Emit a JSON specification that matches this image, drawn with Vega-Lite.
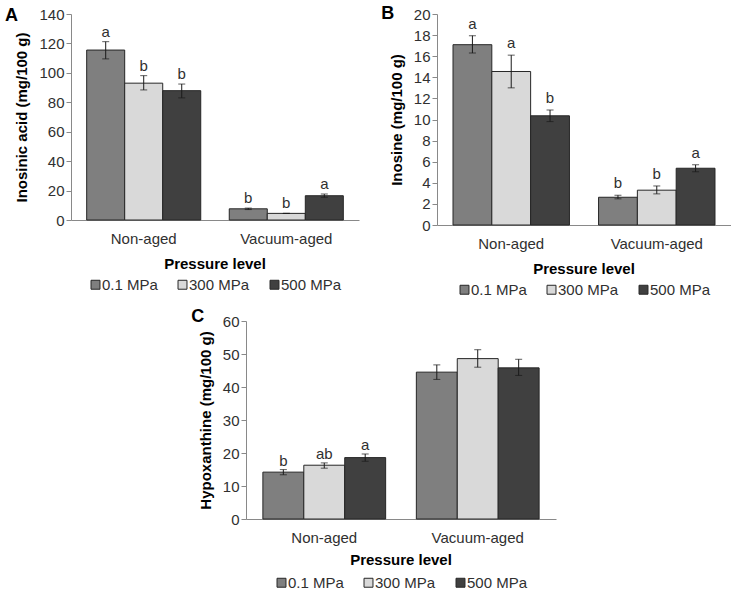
{
  "$schema": "https://vega.github.io/schema/vega-lite/v6.json",
  "padding": {"left": 4, "top": 5, "right": 0, "bottom": 0},
  "background": "white",
  "config": {
    "font": "Liberation Sans",
    "view": {"stroke": null},
    "axis": {
      "domainColor": "#898989",
      "tickColor": "#898989",
      "labelColor": "#303030",
      "labelFont": "Liberation Sans",
      "labelFontSize": 15,
      "titleFont": "Liberation Sans",
      "titleFontSize": 15,
      "titleFontWeight": "bold",
      "titleColor": "#000000",
      "grid": false,
      "labelOverlap": false,
      "labelBound": false
    },
    "axisX": {"ticks": false, "tickSize": 0, "labelAngle": 0, "labelPadding": 11, "title": null},
    "axisY": {"tickSize": 5, "labelPadding": 2, "titlePadding": 9},
    "legend": {
      "layout": {"bottom": {"anchor": "middle"}},
      "orient": "bottom",
      "direction": "horizontal",
      "titleOrient": "top",
      "titleAnchor": "middle",
      "titleFont": "Liberation Sans",
      "titleFontSize": 15,
      "titleFontWeight": "bold",
      "titleColor": "#000000",
      "titlePadding": 5,
      "labelFont": "Liberation Sans",
      "labelFontSize": 15,
      "labelColor": "#303030",
      "labelOffset": -1,
      "symbolType": "square",
      "symbolSize": 80,
      "symbolStrokeColor": "#262626",
      "symbolStrokeWidth": 1,
      "columnPadding": 17,
      "offset": 11
    },
    "title": {"fontSize": 18, "fontWeight": "bold", "color": "#000000", "orient": "left", "anchor": "end", "frame": "group", "angle": 0, "align": "right", "baseline": "middle"}
  },
  "datasets": {
    "A": [
      {"group": "Non-aged", "pressure": "0.1 MPa", "value": 115.5, "lo": 109.5, "hi": 121.2, "letter": "a"},
      {"group": "Non-aged", "pressure": "300 MPa", "value": 93.0, "lo": 88.4, "hi": 98.1, "letter": "b"},
      {"group": "Non-aged", "pressure": "500 MPa", "value": 87.9, "lo": 83.0, "hi": 92.4, "letter": "b"},
      {"group": "Vacuum-aged", "pressure": "0.1 MPa", "value": 7.6, "lo": 7.1, "hi": 8.1, "letter": "b"},
      {"group": "Vacuum-aged", "pressure": "300 MPa", "value": 4.5, "lo": 4.5, "hi": 4.5, "letter": "b"},
      {"group": "Vacuum-aged", "pressure": "500 MPa", "value": 16.5, "lo": 15.4, "hi": 17.6, "letter": "a"}
    ],
    "B": [
      {"group": "Non-aged", "pressure": "0.1 MPa", "value": 17.09, "lo": 16.3, "hi": 17.95, "letter": "a"},
      {"group": "Non-aged", "pressure": "300 MPa", "value": 14.55, "lo": 13.0, "hi": 16.1, "letter": "a"},
      {"group": "Non-aged", "pressure": "500 MPa", "value": 10.35, "lo": 9.8, "hi": 10.9, "letter": "b"},
      {"group": "Vacuum-aged", "pressure": "0.1 MPa", "value": 2.63, "lo": 2.48, "hi": 2.82, "letter": "b"},
      {"group": "Vacuum-aged", "pressure": "300 MPa", "value": 3.3, "lo": 2.95, "hi": 3.7, "letter": "b"},
      {"group": "Vacuum-aged", "pressure": "500 MPa", "value": 5.38, "lo": 5.05, "hi": 5.7, "letter": "a"}
    ],
    "C": [
      {"group": "Non-aged", "pressure": "0.1 MPa", "value": 14.2, "lo": 13.4, "hi": 14.97, "letter": "b"},
      {"group": "Non-aged", "pressure": "300 MPa", "value": 16.3, "lo": 15.4, "hi": 17.0, "letter": "ab"},
      {"group": "Non-aged", "pressure": "500 MPa", "value": 18.6, "lo": 17.5, "hi": 19.7, "letter": "a"},
      {"group": "Vacuum-aged", "pressure": "0.1 MPa", "value": 44.5, "lo": 42.3, "hi": 46.7, "letter": ""},
      {"group": "Vacuum-aged", "pressure": "300 MPa", "value": 48.6, "lo": 46.0, "hi": 51.3, "letter": ""},
      {"group": "Vacuum-aged", "pressure": "500 MPa", "value": 45.8, "lo": 43.5, "hi": 48.4, "letter": ""}
    ]
  },
  "vconcat": [
    {
      "hconcat": [
        {
          "width": 288, "height": 206,
          "title": {"text": "A", "dy": -7, "offset": -16},
          "data": {"name": "A"},
          "encoding": {
            "x": {"field": "group", "type": "nominal", "sort": ["Non-aged", "Vacuum-aged"], "scale": {"paddingInner": 0.2, "paddingOuter": 0.11}},
            "xOffset": {"field": "pressure", "type": "nominal", "sort": ["0.1 MPa", "300 MPa", "500 MPa"], "scale": {"paddingInner": 0, "paddingOuter": 0}}
          },
          "layer": [
            {
              "mark": {"type": "bar", "stroke": "#262626", "strokeWidth": 1},
              "encoding": {
                "y": {"field": "value", "type": "quantitative", "scale": {"domain": [0, 140]}, "axis": {"values": [0, 20, 40, 60, 80, 100, 120, 140], "title": "Inosinic acid (mg/100 g)"}},
                "color": {"field": "pressure", "type": "nominal", "sort": ["0.1 MPa", "300 MPa", "500 MPa"], "scale": {"domain": ["0.1 MPa", "300 MPa", "500 MPa"], "range": ["#7f7f7f", "#d9d9d9", "#404040"]}, "legend": {"title": "Pressure level"}}
              }
            },
            {"mark": {"type": "rule", "color": "#1a1a1a", "strokeWidth": 1}, "encoding": {"y": {"field": "lo", "type": "quantitative", "axis": {"values": [0, 20, 40, 60, 80, 100, 120, 140], "title": "Inosinic acid (mg/100 g)"}}, "y2": {"field": "hi"}}},
            {"mark": {"type": "tick", "color": "#1a1a1a", "size": 7, "thickness": 1, "orient": "horizontal"}, "encoding": {"y": {"field": "lo", "type": "quantitative", "axis": {"values": [0, 20, 40, 60, 80, 100, 120, 140], "title": "Inosinic acid (mg/100 g)"}}}},
            {"mark": {"type": "tick", "color": "#1a1a1a", "size": 7, "thickness": 1, "orient": "horizontal"}, "encoding": {"y": {"field": "hi", "type": "quantitative", "axis": {"values": [0, 20, 40, 60, 80, 100, 120, 140], "title": "Inosinic acid (mg/100 g)"}}}},
            {"mark": {"type": "text", "fontSize": 15, "color": "#303030", "baseline": "alphabetic", "dy": -5}, "encoding": {"y": {"field": "hi", "type": "quantitative", "axis": {"values": [0, 20, 40, 60, 80, 100, 120, 140], "title": "Inosinic acid (mg/100 g)"}}, "text": {"field": "letter"}}}
          ]
        },
        {
          "width": 294, "height": 211,
          "title": {"text": "B", "dy": -9, "offset": -18},
          "data": {"name": "B"},
          "encoding": {
            "x": {"field": "group", "type": "nominal", "sort": ["Non-aged", "Vacuum-aged"], "scale": {"paddingInner": 0.2, "paddingOuter": 0.11}},
            "xOffset": {"field": "pressure", "type": "nominal", "sort": ["0.1 MPa", "300 MPa", "500 MPa"], "scale": {"paddingInner": 0, "paddingOuter": 0}}
          },
          "layer": [
            {
              "mark": {"type": "bar", "stroke": "#262626", "strokeWidth": 1},
              "encoding": {
                "y": {"field": "value", "type": "quantitative", "scale": {"domain": [0, 20]}, "axis": {"values": [0, 2, 4, 6, 8, 10, 12, 14, 16, 18, 20], "title": "Inosine (mg/100 g)"}},
                "color": {"field": "pressure", "type": "nominal", "sort": ["0.1 MPa", "300 MPa", "500 MPa"], "scale": {"domain": ["0.1 MPa", "300 MPa", "500 MPa"], "range": ["#7f7f7f", "#d9d9d9", "#404040"]}, "legend": {"title": "Pressure level"}}
              }
            },
            {"mark": {"type": "rule", "color": "#1a1a1a", "strokeWidth": 1}, "encoding": {"y": {"field": "lo", "type": "quantitative", "axis": {"values": [0, 2, 4, 6, 8, 10, 12, 14, 16, 18, 20], "title": "Inosine (mg/100 g)"}}, "y2": {"field": "hi"}}},
            {"mark": {"type": "tick", "color": "#1a1a1a", "size": 7, "thickness": 1, "orient": "horizontal"}, "encoding": {"y": {"field": "lo", "type": "quantitative", "axis": {"values": [0, 2, 4, 6, 8, 10, 12, 14, 16, 18, 20], "title": "Inosine (mg/100 g)"}}}},
            {"mark": {"type": "tick", "color": "#1a1a1a", "size": 7, "thickness": 1, "orient": "horizontal"}, "encoding": {"y": {"field": "hi", "type": "quantitative", "axis": {"values": [0, 2, 4, 6, 8, 10, 12, 14, 16, 18, 20], "title": "Inosine (mg/100 g)"}}}},
            {"mark": {"type": "text", "fontSize": 15, "color": "#303030", "baseline": "alphabetic", "dy": -7}, "encoding": {"y": {"field": "hi", "type": "quantitative", "axis": {"values": [0, 2, 4, 6, 8, 10, 12, 14, 16, 18, 20], "title": "Inosine (mg/100 g)"}}, "text": {"field": "letter"}}}
          ]
        }
      ],
      "spacing": 78,
      "bounds": "flush",
      "resolve": {"scale": {"color": "independent", "y": "independent", "x": "independent", "xOffset": "independent"}, "legend": {"color": "independent"}}
    },
    {
      "width": 310, "height": 198,
      "title": {"text": "C", "dy": -13, "offset": -19},
      "data": {"name": "C"},
      "encoding": {
        "x": {"field": "group", "type": "nominal", "sort": ["Non-aged", "Vacuum-aged"], "scale": {"paddingInner": 0.2, "paddingOuter": 0.11}},
        "xOffset": {"field": "pressure", "type": "nominal", "sort": ["0.1 MPa", "300 MPa", "500 MPa"], "scale": {"paddingInner": 0, "paddingOuter": 0}}
      },
      "layer": [
        {
          "mark": {"type": "bar", "stroke": "#262626", "strokeWidth": 1},
          "encoding": {
            "y": {"field": "value", "type": "quantitative", "scale": {"domain": [0, 60]}, "axis": {"values": [0, 10, 20, 30, 40, 50, 60], "title": "Hypoxanthine (mg/100 g)"}},
            "color": {"field": "pressure", "type": "nominal", "sort": ["0.1 MPa", "300 MPa", "500 MPa"], "scale": {"domain": ["0.1 MPa", "300 MPa", "500 MPa"], "range": ["#7f7f7f", "#d9d9d9", "#404040"]}, "legend": {"title": "Pressure level", "offset": 8, "titlePadding": 7}}
          }
        },
        {"mark": {"type": "rule", "color": "#1a1a1a", "strokeWidth": 1}, "encoding": {"y": {"field": "lo", "type": "quantitative", "axis": {"values": [0, 10, 20, 30, 40, 50, 60], "title": "Hypoxanthine (mg/100 g)"}}, "y2": {"field": "hi"}}},
        {"mark": {"type": "tick", "color": "#1a1a1a", "size": 7, "thickness": 1, "orient": "horizontal"}, "encoding": {"y": {"field": "lo", "type": "quantitative", "axis": {"values": [0, 10, 20, 30, 40, 50, 60], "title": "Hypoxanthine (mg/100 g)"}}}},
        {"mark": {"type": "tick", "color": "#1a1a1a", "size": 7, "thickness": 1, "orient": "horizontal"}, "encoding": {"y": {"field": "hi", "type": "quantitative", "axis": {"values": [0, 10, 20, 30, 40, 50, 60], "title": "Hypoxanthine (mg/100 g)"}}}},
        {"mark": {"type": "text", "fontSize": 15, "color": "#303030", "baseline": "alphabetic", "dy": -4}, "encoding": {"y": {"field": "hi", "type": "quantitative", "axis": {"values": [0, 10, 20, 30, 40, 50, 60], "title": "Hypoxanthine (mg/100 g)"}}, "text": {"field": "letter"}}}
      ]
    }
  ],
  "spacing": 10,
  "center": true,
  "resolve": {"scale": {"color": "independent", "y": "independent", "x": "independent", "xOffset": "independent"}, "legend": {"color": "independent"}}
}
